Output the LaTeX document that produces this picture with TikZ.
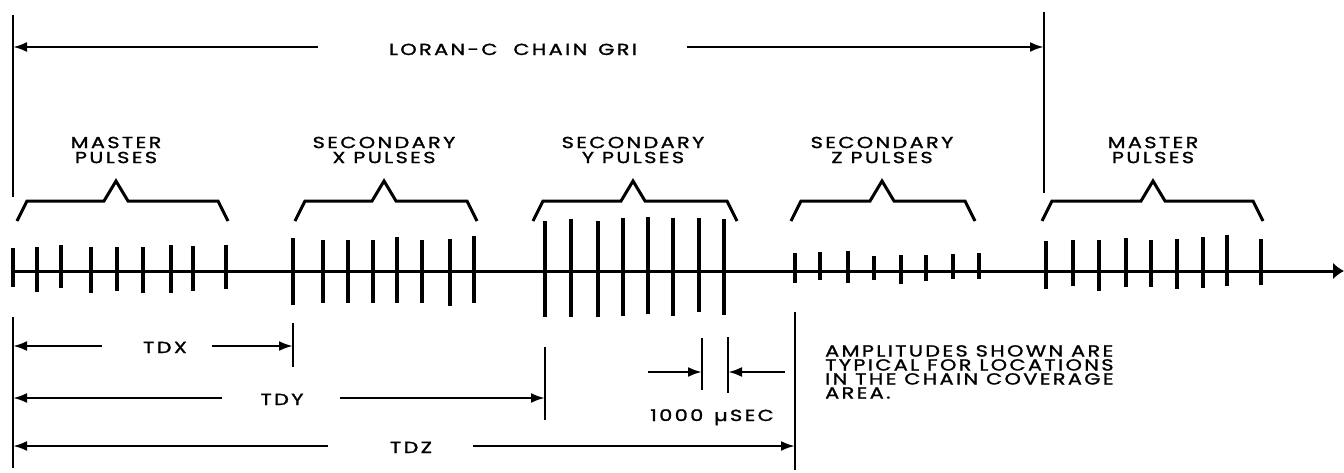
\documentclass[tikz,border=0pt]{standalone}
\usepackage{fontspec}
\setmainfont{Poppins}[LetterSpace=15, FakeStretch=1.3, FakeBold=1.5]
\usetikzlibrary{arrows.meta}
\begin{document}
\begin{tikzpicture}[x=1pt,y=-1pt,
  lbl/.style={font=\fontsize{16}{15}\selectfont, align=center, inner sep=0pt},
  txt/.style={font=\fontsize{16}{15}\selectfont, inner sep=0pt, anchor=base},
  note/.style={font=\fontsize{16}{14}\selectfont, align=left, inner sep=0pt, anchor=north west},
  axisline/.style={line width=3pt, -{Latex[length=11pt,width=17pt]}},
  tick/.style={line width=3.4pt},
  brk/.style={line width=3pt, line join=miter},
  bord/.style={line width=2pt},
  dimarr/.style={line width=2.5pt, -{Latex[length=14pt,width=10pt]}}
]
\useasboundingbox (0,0) rectangle (1344,472);

% border lines
\draw[bord] (13,15) -- (13,197);
\draw[bord] (13,317) -- (13,468);
\draw[bord] (1044,12) -- (1044,193);

% GRI
\coordinate (griL) at (13,47);
\coordinate (griR) at (1044,47);
\coordinate (griLa) at (318,47);
\coordinate (griRa) at (687,47);
\node[txt] (gri) at (513,55) {LORAN-C\hspace{8pt} CHAIN\hspace{3pt} GRI};
\draw[dimarr] (griLa) -- (griL);
\draw[dimarr] (griRa) -- (griR);

% group labels
\node[lbl] (lm1) at (116,150) {MASTER\\PULSES};
\node[lbl] (lx) at (384,150) {SECONDARY\\X PULSES};
\node[lbl] (ly) at (633,150) {SECONDARY\\Y PULSES};
\node[lbl] (lz) at (882,150) {SECONDARY\\Z PULSES};
\node[lbl] (lm2) at (1153,150) {MASTER\\PULSES};

% brackets
\newcommand{\pulsebrk}[3]{%
  \draw[brk] (#1,221) -- ({#1+10},201) -- ({#2-12},201) -- (#2,181) -- ({#2+12},201) -- ({#3-10},201) -- (#3,221);}
\pulsebrk{17}{116}{228}
\pulsebrk{295}{384}{477}
\pulsebrk{533}{633}{737}
\pulsebrk{791}{882}{975}
\pulsebrk{1042}{1153}{1263}

% time axis
\coordinate (ax0) at (13,271);
\coordinate (ax1) at (1344,271);
\draw[axisline] (ax0) -- (ax1);

% pulses
\foreach \x/\t/\b in {13/248/287, 37/247/292, 61/245/288, 91/247/293, 117/247/291, 143/247/293, 171/245/293, 193/246/291, 226/245/289,
  293/238/305, 323/240/303, 348/240/303, 373/240/303, 397/237/303, 422/240/303, 450/239/306, 474/236/303,
  545/221/317, 571/219/317, 598/221/317, 623/218/316, 648/217/314, 673/218/316, 699/218/312, 724/219/315,
  795/253/283, 820/252/280, 848/251/283, 874/256/280, 901/255/284, 926/255/281, 953/254/279, 979/253/279,
  1046/241/289, 1073/240/286, 1099/240/291, 1126/238/287, 1151/240/287, 1177/239/289, 1203/237/288, 1227/235/286, 1261/239/285}
  \draw[tick] (\x,\t) -- (\x,\b);

% TDX
\draw[bord] (293,323) -- (293,367);
\coordinate (tdxL) at (13,346);
\coordinate (tdxR) at (293,346);
\coordinate (tdxa) at (102,346);
\coordinate (tdxb) at (212,346);
\node[txt] (tdx) at (165,353) {TDX};
\draw[dimarr] (tdxa) -- (tdxL);
\draw[dimarr] (tdxb) -- (tdxR);

% TDY
\draw[bord] (545,347) -- (545,420);
\coordinate (tdyL) at (13,398);
\coordinate (tdyR) at (545,398);
\coordinate (tdya) at (222,398);
\coordinate (tdyb) at (340,398);
\node[txt] (tdy) at (282,405) {TDY};
\draw[dimarr] (tdya) -- (tdyL);
\draw[dimarr] (tdyb) -- (tdyR);

% TDZ
\draw[bord] (795,312) -- (795,470);
\coordinate (tdzL) at (13,446);
\coordinate (tdzR) at (795,446);
\coordinate (tdza) at (328,446);
\coordinate (tdzb) at (473,446);
\node[txt] (tdz) at (411,453) {TDZ};
\draw[dimarr] (tdza) -- (tdzL);
\draw[dimarr] (tdzb) -- (tdzR);

% 1000 microsec
\draw[bord] (702,338) -- (702,390);
\draw[bord] (728,337) -- (728,393);
\coordinate (usL) at (702,372);
\coordinate (usR) at (728,372);
\coordinate (usa) at (648,372);
\coordinate (usb) at (785,372);
\draw[dimarr] (usa) -- (usL);
\draw[dimarr] (usb) -- (usR);
\node[txt] (us) at (712,421) {1000\hspace{3pt} µSEC};

% note
\node[note] (nt) at (825,345) {AMPLITUDES SHOWN ARE\\TYPICAL FOR LOCATIONS\\IN THE CHAIN COVERAGE\\AREA.};
\end{tikzpicture}
\end{document}
